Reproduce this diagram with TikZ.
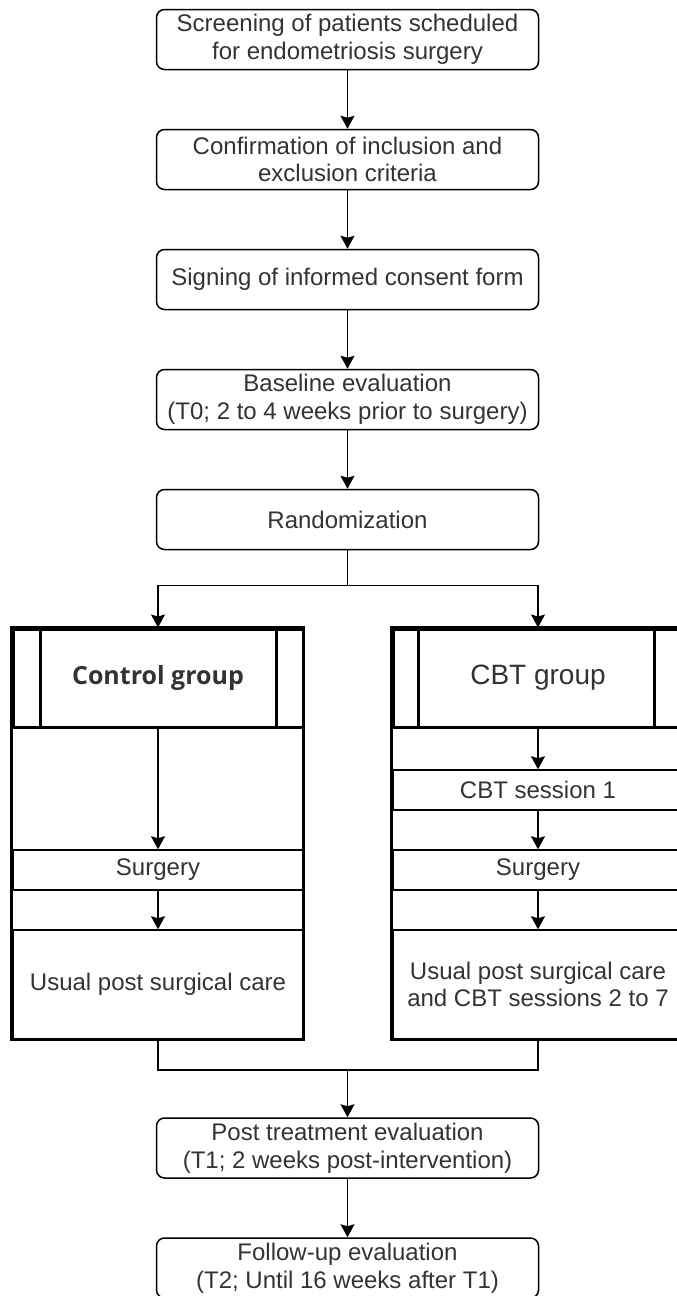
\documentclass[tikz,border=0pt]{standalone}
\usepackage{fontspec}
\setmainfont{Liberation Sans}
\newfontfamily\headfont{Open Sans}
\usepackage{tikz}
\usetikzlibrary{calc,arrows.meta}

\begin{document}
\begin{tikzpicture}[x=1pt, y=1pt, node distance=120pt,
    every node/.style={text=black!80, align=center, font=\fontsize{24pt}{27.6pt}\selectfont},
    stage/.style={draw, rectangle, rounded corners=8pt, line width=1.5pt, minimum width=382pt, minimum height=60pt, inner sep=2pt},
    grouphead/.style={draw, rectangle, line width=3pt, minimum width=290pt, minimum height=98pt, inner sep=0pt},
    row/.style={draw, rectangle, line width=1.5pt, minimum width=290pt, minimum height=40pt, inner sep=0pt},
    frame/.style={draw, line width=3pt},
    bar/.style={line width=2.5pt},
    line/.style={line width=1.5pt},
    arrow/.style={line width=1.5pt, -{Stealth[length=13pt, width=14pt, inset=2pt]}}]
    \useasboundingbox (0,0) rectangle (677,-1296);
    \fill[white] (0,0) rectangle (677,-1296);

    % Nodes
    \node[stage] (screening) at (347.5,-39.5) {Screening of patients scheduled\\for endometriosis surgery};
    \node[stage, below of=screening] (criteria) {Confirmation of inclusion and\\exclusion criteria};
    \node[stage, below of=criteria] (consent) {Signing of informed consent form};
    \node[stage, below of=consent] (baseline) {Baseline evaluation\\(T0; 2 to 4 weeks prior to surgery)};
    \node[stage, below of=baseline] (random) {Randomization};

    \node[grouphead, font=\headfont\bfseries\fontsize{25pt}{28pt}\selectfont] (ctrlhead) at (158,-678) {Control group};
    \node[grouphead, font=\fontsize{28pt}{32pt}\selectfont] (cbthead) at (538,-678) {CBT group};

    \node[row] (ctrlsurg) at (158,-870) {Surgery};
    \node[row, minimum height=109pt] (ctrlcare) at (158,-984.5) {Usual post surgical care};

    \node[row] (cbtses) at (538,-790) {CBT session 1};
    \node[row] (cbtsurg) at (538,-870) {Surgery};
    \node[row, minimum height=109pt] (cbtcare) at (538,-984.5) {Usual post surgical care\\and CBT sessions 2 to 7};

    \node[stage] (post) at (347.5,-1148) {Post treatment evaluation\\(T1; 2 weeks post-intervention)};
    \node[stage, below of=post] (followup) {Follow-up evaluation\\(T2; Until 16 weeks after T1)};

    % Group frames
    \draw[frame] (ctrlhead.north west) rectangle (ctrlcare.south east);
    \draw[frame] (cbthead.north west) rectangle (cbtcare.south east);
    \draw[bar] ([xshift=29pt]ctrlhead.north west) -- ([xshift=29pt]ctrlhead.south west);
    \draw[bar] ([xshift=-28pt]ctrlhead.north east) -- ([xshift=-28pt]ctrlhead.south east);
    \draw[bar] ([xshift=27pt]cbthead.north west) -- ([xshift=27pt]cbthead.south west);
    \draw[bar] ([xshift=-30pt]cbthead.north east) -- ([xshift=-30pt]cbthead.south east);

    % Paths
    \draw[arrow] (screening) -- (criteria);
    \draw[arrow] (criteria) -- (consent);
    \draw[arrow] (consent) -- (baseline);
    \draw[arrow] (baseline) -- (random);

    \coordinate (split) at ($(random.south)+(0,-35)$);
    \draw[line] (random) -- (split);
    \draw[arrow] (split) -| (ctrlhead.north);
    \draw[arrow] (split) -| (cbthead.north);

    \draw[arrow] (ctrlhead) -- (ctrlsurg);
    \draw[arrow] (ctrlsurg) -- (ctrlcare);
    \draw[arrow] (cbthead) -- (cbtses);
    \draw[arrow] (cbtses) -- (cbtsurg);
    \draw[arrow] (cbtsurg) -- (cbtcare);

    \coordinate (join) at (347.5,-1070);
    \draw[line] (ctrlcare.south) |- (join) -| (cbtcare.south);
    \draw[arrow] (join) -- (post);
    \draw[arrow] (post) -- (followup);
\end{tikzpicture}
\end{document}
